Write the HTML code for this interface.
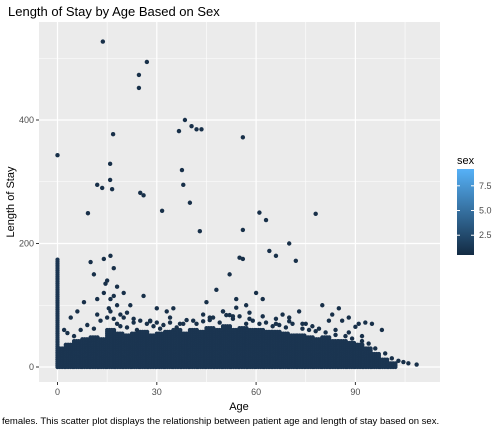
<!DOCTYPE html>
<html><head><meta charset="utf-8"><style>
body{margin:0;background:#fff;font-family:"Liberation Sans",Arial,sans-serif;}
svg text{font-family:"Liberation Sans",Arial,sans-serif;}
</style></head><body>
<svg id="chart" width="504" height="432" xmlns="http://www.w3.org/2000/svg">
<rect width="504" height="432" fill="#fff"/>
<text x="8" y="16" font-size="13" fill="#000">Length of Stay by Age Based on Sex</text>
<rect x="39" y="22" width="401" height="360" fill="#EBEBEB"/>
<g id="grid"></g>
<g id="dense"></g>
<g id="pts"></g>
<g id="axes"></g>
<text x="239" y="410" font-size="11" text-anchor="middle">Age</text>
<text transform="translate(14,202) rotate(-90)" font-size="11" text-anchor="middle">Length of Stay</text>
<g>
<defs><linearGradient id="lg" x1="0" y1="1" x2="0" y2="0"><stop offset="0" stop-color="#132B43"/><stop offset="1" stop-color="#56B1F7"/></linearGradient></defs>
<text x="457" y="164" font-size="11">sex</text>
<rect x="457" y="169" width="17" height="86" fill="url(#lg)"/>
<g id="leg"></g>
</g>
<text x="2" y="424" font-size="9.5">females. This scatter plot displays the relationship between patient age and length of stay based on sex.</text>
</svg>
<script>
const binAges=[0,2.5,5,7.5,10,12.5,15,17.5,20,22.5,25,27.5,30,32.5,35,37.5,40,42.5,45,47.5,50,52.5,55,57.5,60,62.5,65,67.5,70,72.5,75,77.5,80,82.5,85,87.5,90,92.5,95,97.5,100];
const binMaxLos=[30,38,42,46,50,45,62,55,52,56,58,52,55,58,60,56,62,58,64,60,66,62,64,62,60,58,58,54,52,52,50,46,48,44,42,40,36,30,22,14,6];
const outAge=[13.7,27,24.6,24.6,0,38.5,40.5,42,43.5,36.7,16.8,56,15.9,37.6,15.9,12,13.5,16.5,38,61,63,78,9.2,31.6,25,26,40,56,43,70,55,56,72,64,11,14,17,16,15,18,20,12,10,22,26,30,33,45,48,52,54,57,60,66,73,80,85,88,6,8,19,21,35,41,50,53,62,68,75,82,90,93,98,2,4,28,44,47,58,66,70,83,86,91,95,
3,5,7,9,11,13,15,16,17,18,19,21,23,24,25,27,29,31,32,34,36,37,39,42,44,46,49,51,53,55,57,59,61,63,65,67,69,71,74,76,78,79,81,84,87,89,92,94,96,99,101,103,104.5,106,108.5,
14,16,18,14.5,17,15.5,12,20,23,28,30,34,38,46,50,52,54,58,62,66,70,74,77,84,88,92];
const outLos=[527,494,473,452,343,400,390,385,385,382,377,372,329,319,303,295,290,288,295,250,238,248,249,253,282,278,266,222,220,200,177,175,172,188,150,175,160,180,140,130,120,110,170,100,115,95,90,105,125,150,110,100,120,180,90,100,95,80,90,105,85,88,95,75,90,82,110,85,70,75,65,72,60,60,80,75,85,80,78,70,80,85,75,70,70,
55,50,60,68,62,75,80,90,78,70,66,64,72,60,75,70,66,62,68,72,64,70,76,70,74,80,72,84,78,82,70,75,70,72,66,68,64,70,62,60,58,62,56,52,50,46,42,38,30,22,14,10,8,6,4,
120,110,100,135,115,95,85,80,78,74,72,80,70,76,90,84,96,88,82,78,74,70,66,60,56,50];
const legLabels=["7.5","5.0","2.5"];
const legVals=[7.5,5.0,2.5];
const xTicks=[0,30,60,90], yTicks=[0,200,400];
const ns="http://www.w3.org/2000/svg";
const X=a=>57.5+a*3.31, Y=v=>367-v*0.6175;
function mk(tag,at,parent){const e=document.createElementNS(ns,tag);for(const k in at)e.setAttribute(k,at[k]);parent.appendChild(e);return e;}
const grid=document.getElementById('grid');
[15,45,75,105].forEach(v=>{const l=mk('line',{x1:X(v),x2:X(v),y1:22,y2:382,stroke:'#fff','stroke-width':0.6},grid);});
[100,300,500].forEach(v=>{const l=mk('line',{x1:39,x2:440,y1:Y(v),y2:Y(v),stroke:'#fff','stroke-width':0.6},grid);});
xTicks.forEach(v=>{const l=mk('line',{x1:X(v),x2:X(v),y1:22,y2:382,stroke:'#fff','stroke-width':1.2},grid);});
yTicks.forEach(v=>{const l=mk('line',{x1:39,x2:440,y1:Y(v),y2:Y(v),stroke:'#fff','stroke-width':1.2},grid);});
const axes=document.getElementById('axes');
xTicks.forEach(v=>{mk('line',{x1:X(v),x2:X(v),y1:382,y2:385,stroke:'#333'},axes);const t=mk('text',{x:X(v),y:395,'font-size':9,'text-anchor':'middle',fill:'#4d4d4d'},axes);t.textContent=v;});
yTicks.forEach(v=>{mk('line',{x1:36,x2:39,y1:Y(v),y2:Y(v),stroke:'#333'},axes);const t=mk('text',{x:34,y:Y(v)+3,'font-size':9,'text-anchor':'end',fill:'#4d4d4d'},axes);t.textContent=v;});
const dense=document.getElementById('dense');
const col='#1B3551';
binAges.forEach((a0,i)=>{for(let a=a0;a<a0+2.5;a+=0.7){for(let v=0;v<=binMaxLos[i];v+=3){mk('circle',{cx:X(a),cy:Y(v),r:2.1,fill:col},dense);}}});
for(let v=0;v<=175;v+=3){mk('circle',{cx:X(0),cy:Y(v),r:2.1,fill:col},dense);}
const pts=document.getElementById('pts');
outAge.forEach((a,i)=>{const c=mk('circle',{cx:X(a),cy:Y(outLos[i]),r:2.2,fill:'#183049'},pts);});
const leg=document.getElementById('leg');
legVals.forEach((v,i)=>{const y=255-(v-0.5)/(9.2-0.5)*86;mk('line',{x1:457,x2:460,y1:y,y2:y,stroke:'#fff'},leg);mk('line',{x1:471,x2:474,y1:y,y2:y,stroke:'#fff'},leg);const t=mk('text',{x:479,y:y+3,'font-size':9,fill:'#4d4d4d'},leg);t.textContent=legLabels[i];});
</script>
</body></html>
